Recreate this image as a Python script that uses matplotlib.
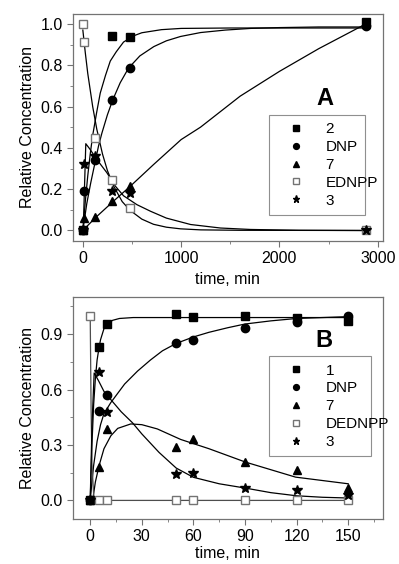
import numpy as np
import matplotlib.pyplot as plt
from matplotlib.ticker import MultipleLocator

plt.rcParams['font.family'] = ['Liberation Sans', 'DejaVu Sans']

# ---- Panel A data (time in min) ----
tA = [0, 10, 120, 300, 480, 2880]
a_2 = [0, np.nan, np.nan, 0.939, 0.936, 1.01]
a_dnp = [0, 0.19, 0.343, 0.633, 0.786, 0.99]
a_7 = [0, 0.06, 0.066, 0.142, 0.214, 1.0]
a_ednpp = [1.0, 0.91, 0.448, 0.246, 0.11, 0.0]
a_3 = [0, 0.32, 0.359, 0.19, 0.182, 0.0]

# fitted curves
fitA_2_t = [0, 25, 50, 75, 100, 140, 177, 230, 279, 340, 414, 516, 600, 800, 1000, 1500, 2880]
fitA_2_y = [0, 0.14, 0.265, 0.37, 0.46, 0.57, 0.665, 0.75, 0.82, 0.865, 0.912, 0.942, 0.957, 0.972, 0.978, 0.98, 0.98]
fitA_dnp_t = [0, 40, 80, 120, 160, 193, 250, 305, 380, 465, 580, 722, 850, 994, 1198, 1450, 1706, 2000, 2400, 2880]
fitA_dnp_y = [0, 0.13, 0.23, 0.32, 0.41, 0.47, 0.56, 0.633, 0.715, 0.786, 0.845, 0.89, 0.918, 0.939, 0.958, 0.97, 0.978, 0.982, 0.985, 0.985]
fitA_7_t = [0, 126, 312, 482, 719, 1000, 1197, 1600, 2000, 2400, 2880]
fitA_7_y = [0, 0.061, 0.142, 0.214, 0.319, 0.44, 0.5, 0.65, 0.77, 0.88, 1.0]
fitA_ednpp_t = [0, 25, 50, 75, 100, 142, 200, 250, 312, 400, 482, 600, 719, 850, 994, 1200, 1600, 2880]
fitA_ednpp_y = [0.97, 0.86, 0.76, 0.68, 0.6, 0.49, 0.37, 0.29, 0.216, 0.14, 0.097, 0.055, 0.03, 0.016, 0.008, 0.003, 0.001, 0.0]
fitA_3_t = [0, 5, 30, 70, 120, 180, 244, 330, 414, 550, 689, 850, 1096, 1400, 1706, 2200, 2880]
fitA_3_y = [0, 0.02, 0.42, 0.395, 0.36, 0.32, 0.28, 0.215, 0.168, 0.125, 0.093, 0.06, 0.029, 0.012, 0.005, 0.001, 0.0]

# ---- Panel B data ----
tB = [0, 5, 10, 50, 60, 90, 120, 150]
b_1 = [0, 0.83, 0.955, 1.01, 0.995, 1.0, 0.985, 0.97]
b_dnp = [0, 0.483, 0.572, 0.852, 0.868, 0.936, 0.968, 1.0]
b_7 = [0, 0.18, 0.387, 0.288, 0.33, 0.207, 0.165, 0.068]
b_dednpp = [1.0, 0, 0, 0, 0, 0, 0, 0]
b_3 = [0, 0.693, 0.477, 0.144, 0.148, 0.067, 0.056, 0.03]

fitB_1_t = [0, 1, 2, 3, 4, 5, 6, 8, 10, 13, 17, 25, 150]
fitB_1_y = [0, 0.3, 0.52, 0.66, 0.76, 0.82, 0.87, 0.93, 0.955, 0.975, 0.985, 0.99, 0.99]
fitB_dnp_t = [0, 1, 2, 4, 6, 8, 10, 12, 16, 20, 27.5, 35, 42, 50, 60, 69, 80, 90, 105, 120, 135, 150]
fitB_dnp_y = [0, 0.1, 0.19, 0.32, 0.41, 0.47, 0.5, 0.53, 0.58, 0.63, 0.7, 0.76, 0.81, 0.85, 0.885, 0.91, 0.935, 0.955, 0.972, 0.985, 0.99, 0.995]
fitB_7_t = [0, 1.4, 3, 5.2, 8, 12, 16, 23.6, 30, 39, 52.6, 69, 90.4, 119.4, 150]
fitB_7_y = [0, 0, 0.1, 0.19, 0.28, 0.35, 0.39, 0.414, 0.41, 0.387, 0.33, 0.28, 0.207, 0.126, 0.09]
fitB_dednpp_t = [0, 0.5, 1, 2, 3, 150]
fitB_dednpp_y = [1.0, 0.5, 0.2, 0.03, 0, 0]
fitB_3_t = [0, 1, 2.3, 5, 8, 12.5, 18, 24.6, 30, 40, 50, 60, 75, 90, 105, 120, 135, 150]
fitB_3_y = [0, 0.4, 0.69, 0.645, 0.59, 0.54, 0.48, 0.42, 0.36, 0.26, 0.175, 0.125, 0.09, 0.067, 0.042, 0.025, 0.017, 0.013]

fig = plt.figure(figsize=(3.99, 5.64), dpi=100)
axA = fig.add_axes([0.183, 0.573, 0.776, 0.403])
axB = fig.add_axes([0.183, 0.08, 0.776, 0.393])

ms = 5.5
spine_col = '0.45'


def style(ax, pad):
    for s in ax.spines.values():
        s.set_color(spine_col)
        s.set_linewidth(0.9)
    ax.tick_params(which='both', direction='out', colors='black', labelsize=11.5)
    ax.tick_params(which='major', length=4, color=spine_col)
    ax.tick_params(which='minor', length=2.5, color=spine_col)
    ax.set_ylabel('Relative Concentration', fontsize=11.5)
    ax.set_xlabel('time, min', fontsize=11.5, labelpad=pad)


# ---- A ----
axA.plot(fitA_2_t, fitA_2_y, 'k-', lw=0.9)
axA.plot(fitA_dnp_t, fitA_dnp_y, 'k-', lw=0.9)
axA.plot(fitA_7_t, fitA_7_y, 'k-', lw=0.9)
axA.plot(fitA_ednpp_t, fitA_ednpp_y, 'k-', lw=0.9)
axA.plot(fitA_3_t, fitA_3_y, 'k-', lw=0.9)
axA.plot(tA, a_2, 's', color='k', ms=ms, ls='none', label='2')
axA.plot(tA, a_dnp, 'o', color='k', ms=ms + 0.5, ls='none', label='DNP')
axA.plot(tA, a_7, '^', color='k', ms=ms + 0.5, ls='none', label='7')
axA.plot(tA, a_ednpp, 's', mfc='white', mec='0.45', ms=ms, ls='none', label='EDNPP')
axA.plot(tA, a_3, '*', color='k', ms=ms + 2, ls='none', label='3')
axA.set_xlim(-100, 3050)
axA.set_ylim(-0.05, 1.05)
axA.xaxis.set_major_locator(MultipleLocator(1000))
axA.xaxis.set_minor_locator(MultipleLocator(500))
axA.yaxis.set_major_locator(MultipleLocator(0.2))
axA.yaxis.set_minor_locator(MultipleLocator(0.1))
axA.yaxis.set_major_formatter(plt.FormatStrFormatter('%.1f'))
style(axA, 4.5)
legA = axA.legend(loc='lower left', bbox_to_anchor=(0.608, 0.079, 0.359, 0.464), mode='expand',
                  frameon=True, fancybox=False, edgecolor='0.45', fontsize=11,
                  markerscale=0.7, handletextpad=0.6, labelspacing=0.25, borderpad=0.5,
                  handlelength=2.6)
legA.get_frame().set_linewidth(0.8)
axA.text(0.812, 0.625, 'A', transform=axA.transAxes, fontsize=17, fontweight='bold',
         ha='center', va='center')

# ---- B ----
axB.plot(fitB_1_t, fitB_1_y, 'k-', lw=0.9)
axB.plot(fitB_dnp_t, fitB_dnp_y, 'k-', lw=0.9)
axB.plot(fitB_7_t, fitB_7_y, 'k-', lw=0.9)
axB.plot(fitB_dednpp_t, fitB_dednpp_y, '-', color='0.3', lw=0.9)
axB.plot(fitB_3_t, fitB_3_y, 'k-', lw=0.9)
axB.plot(tB, b_1, 's', color='k', ms=ms, ls='none', label='1')
axB.plot(tB, b_dnp, 'o', color='k', ms=ms + 0.5, ls='none', label='DNP')
axB.plot(tB, b_7, '^', color='k', ms=ms + 0.5, ls='none', label='7')
axB.plot(tB, b_dednpp, 's', mfc='white', mec='0.45', ms=ms, ls='none', label='DEDNPP')
axB.plot(tB, b_3, '*', color='k', ms=ms + 2, ls='none', label='3')
axB.set_xlim(-10, 170)
axB.set_ylim(-0.1, 1.1)
axB.xaxis.set_major_locator(MultipleLocator(30))
axB.xaxis.set_minor_locator(MultipleLocator(15))
axB.yaxis.set_major_locator(MultipleLocator(0.3))
axB.yaxis.set_minor_locator(MultipleLocator(0.15))
axB.yaxis.set_major_formatter(plt.FormatStrFormatter('%.1f'))
style(axB, 1.5)
legB = axB.legend(loc='lower left', bbox_to_anchor=(0.608, 0.247, 0.379, 0.486), mode='expand',
                  frameon=True, fancybox=False, edgecolor='0.45', fontsize=11,
                  markerscale=0.7, handletextpad=0.6, labelspacing=0.25, borderpad=0.5,
                  handlelength=2.6)
legB.get_frame().set_linewidth(0.8)
axB.text(0.812, 0.805, 'B', transform=axB.transAxes, fontsize=17, fontweight='bold',
         ha='center', va='center')

fig.savefig('out.png', dpi=100)
